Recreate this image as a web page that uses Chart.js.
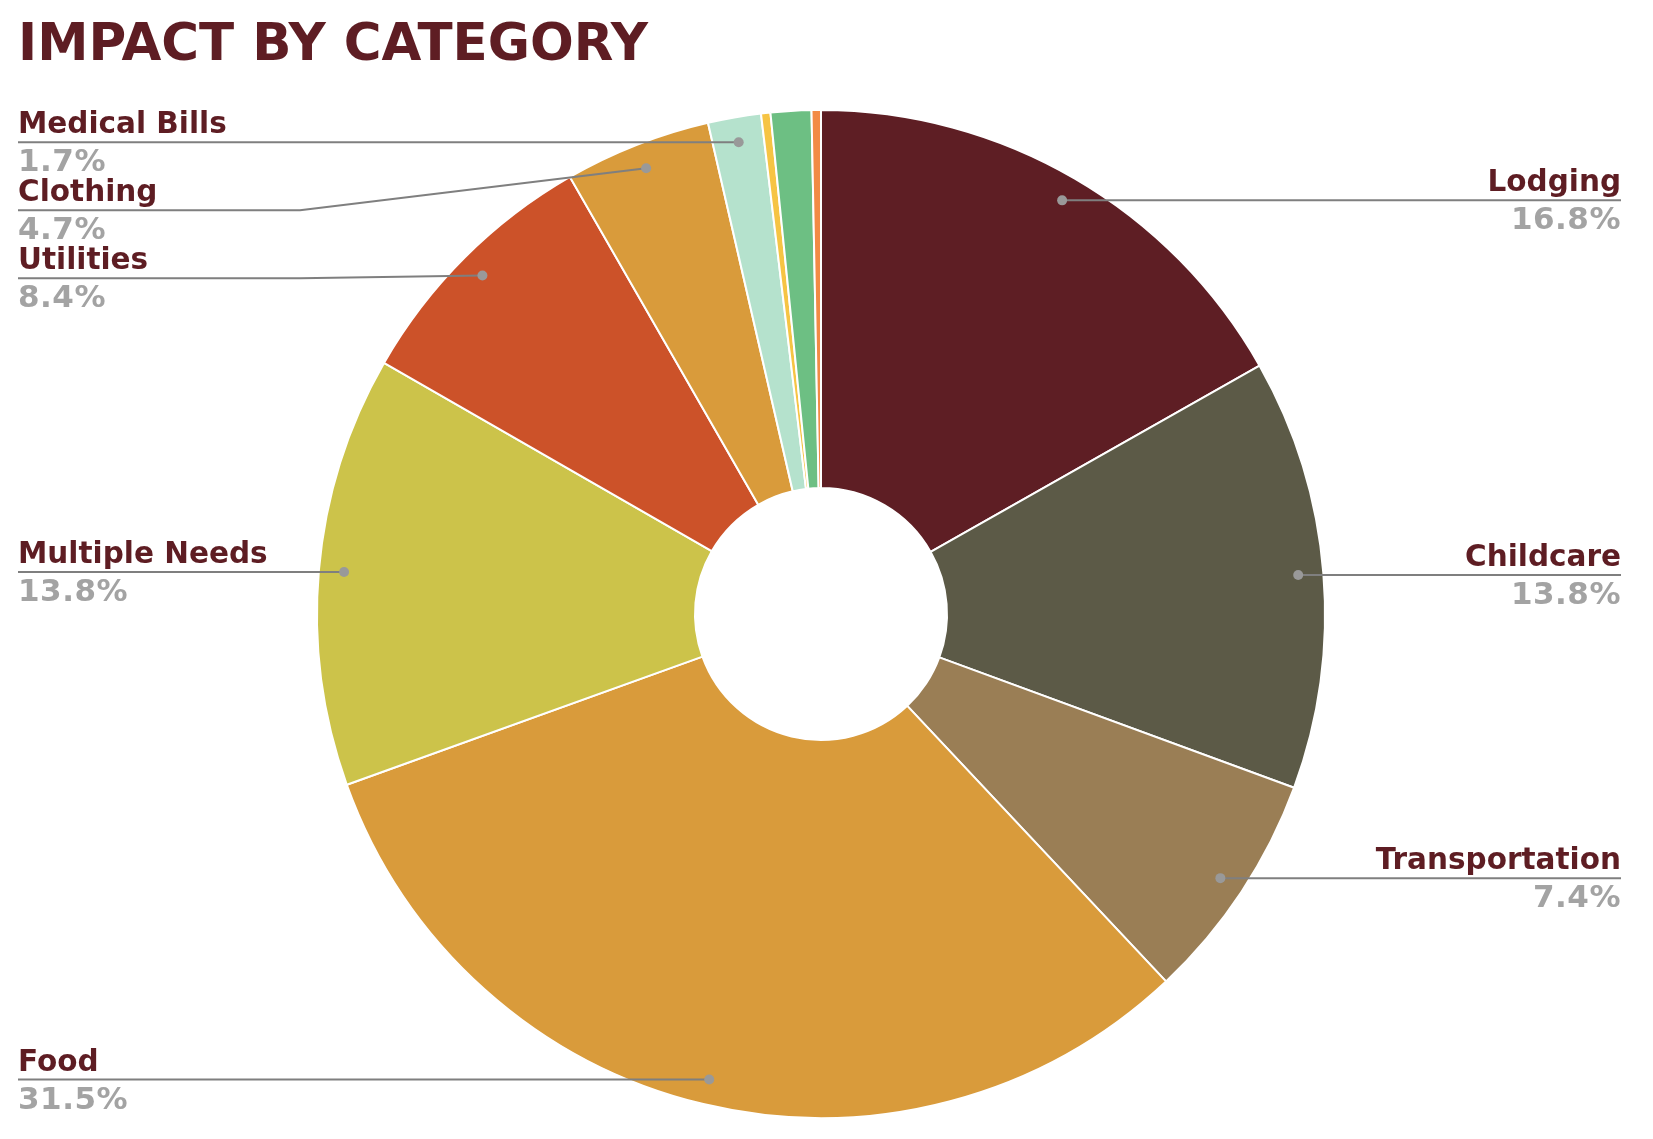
<!DOCTYPE html>
<html>
<head>
<meta charset="utf-8">
<title>Impact by Category</title>
<script src="https://cdn.jsdelivr.net/npm/chart.js@4.4.1/dist/chart.umd.min.js"></script>
<style>
    body { margin: 0; background: #ffffff; }
    #wrap { position: relative; width: 1653px; height: 1139px; }
    #titulo {
        position: absolute; left: 18px; top: 17px; margin: 0;
        font-family: "DejaVu Sans", Verdana, sans-serif; font-weight: bold;
        font-size: 51.5px; line-height: 51.5px; color: #5e1d23;
    }
    canvas { position: absolute; left: 0; top: 0; }
</style>
</head>
<body>
<div id="wrap">
    <canvas id="myChart" width="1653" height="1139"></canvas>
    <h1 id="titulo">IMPACT BY CATEGORY</h1>
</div>
<script>
// chart data (share of total, %), clockwise from 12 o'clock
var categories = ['Lodging', 'Childcare', 'Transportation', 'Food', 'Multiple Needs',
                  'Utilities', 'Clothing', 'Medical Bills', '', '', ''];
var shares = [16.8, 13.8, 7.4, 31.5, 13.8, 8.4, 4.7, 1.7, 0.3, 1.3, 0.3];
var colores = ['#5e1e24', '#5c5a47', '#9a7e55', '#d99b3b', '#ccc34a',
               '#cc5229', '#d99b3b', '#b5e2cd', '#f6c444', '#6dbf83', '#f28b45'];

var fuente = '"DejaVu Sans", Verdana, sans-serif';

// draws the leader lines + labels next to each slice
var etiquetas = {
    id: 'etiquetas',
    afterDraw: function (chart) {
        var ctx = chart.ctx;
        var meta = chart.getDatasetMeta(0);
        var izq = [];
        var der = [];

        for (var i = 0; i < meta.data.length; i++) {
            if (categories[i] === '') continue;
            var p = meta.data[i].getProps(['x', 'y', 'startAngle', 'endAngle', 'outerRadius'], true);
            var mid = (p.startAngle + p.endAngle) / 2;
            var r = p.outerRadius * 0.95;
            var item = {
                nombre: categories[i],
                pct: shares[i].toFixed(1) + '%',
                px: p.x + Math.cos(mid) * r,
                py: p.y + Math.sin(mid) * r
            };
            item.ly = item.py;
            if (item.px < p.x) izq.push(item); else der.push(item);
        }

        // keep labels on each side from stacking on top of each other
        function separar(lista) {
            lista.sort(function (a, b) { return a.py - b.py; });
            for (var k = 1; k < lista.length; k++) {
                lista[k].ly = Math.max(lista[k].py, lista[k - 1].ly + 68);
            }
        }
        separar(izq);
        separar(der);

        ctx.save();
        ctx.lineWidth = 2;
        ctx.strokeStyle = '#7f7f7f';

        function dibujar(item, lado) {
            var borde = lado === 'izq' ? 18 : 1621;
            var codo = lado === 'izq' ? 300 : 1330;
            ctx.beginPath();
            ctx.moveTo(borde, item.ly);
            if (Math.abs(item.ly - item.py) < 1) {
                ctx.lineTo(item.px, item.py);
            } else {
                ctx.lineTo(codo, item.ly);
                ctx.lineTo(item.px, item.py);
            }
            ctx.stroke();

            ctx.fillStyle = '#999999';
            ctx.beginPath();
            ctx.arc(item.px, item.py, 5, 0, Math.PI * 2);
            ctx.fill();

            ctx.textAlign = lado === 'izq' ? 'left' : 'right';
            ctx.textBaseline = 'alphabetic';
            ctx.letterSpacing = '0px';
            ctx.font = 'bold 29.5px ' + fuente;
            ctx.fillStyle = '#5e1d23';
            ctx.fillText(item.nombre, borde, item.ly - 9);
            ctx.letterSpacing = '0.5px';
            ctx.font = 'bold 31px ' + fuente;
            ctx.fillStyle = '#a3a3a3';
            ctx.fillText(item.pct, borde, item.ly + 29);
        }

        for (var a = 0; a < izq.length; a++) dibujar(izq[a], 'izq');
        for (var b = 0; b < der.length; b++) dibujar(der[b], 'der');
        ctx.restore();
    }
};

var ctx = document.getElementById('myChart');
var myChart = new Chart(ctx, {
    type: 'doughnut',
    data: {
        labels: categories,
        datasets: [{
            data: shares,
            backgroundColor: colores,
            borderColor: '#ffffff',
            borderWidth: 2,
            hoverOffset: 0
        }]
    },
    options: {
        responsive: false,
        animation: false,
        cutout: '25%',
        radius: 504,
        layout: { padding: { left: 0, right: 11, top: 89, bottom: 0 } },
        plugins: {
            legend: { display: false },
            tooltip: { enabled: false }
        }
    },
    plugins: [etiquetas]
});
</script>
</body>
</html>
